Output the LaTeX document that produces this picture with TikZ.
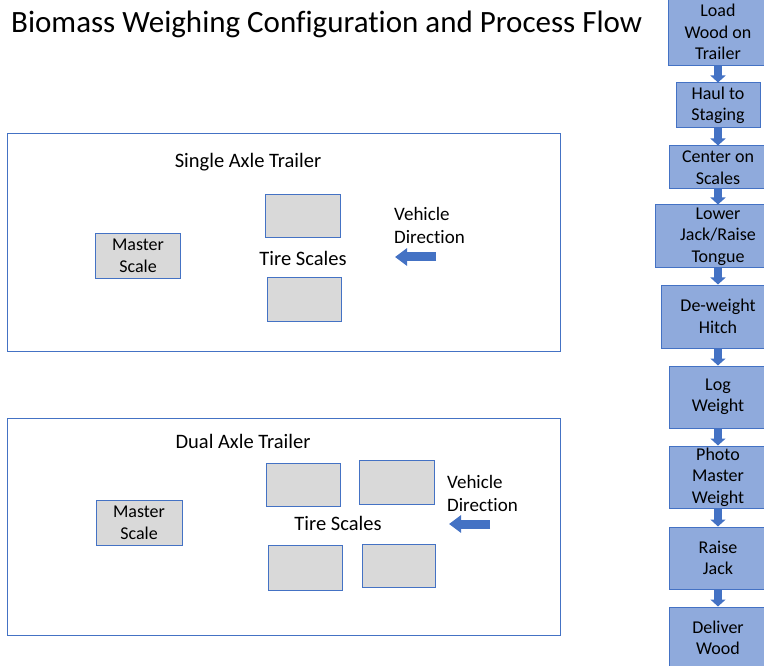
\documentclass[tikz,border=0pt]{standalone}
\usepackage{fontspec}
\setmainfont{Carlito}[Ligatures=NoCommon]
\usetikzlibrary{arrows.meta}

\definecolor{stepfill}{RGB}{143,170,220}
\definecolor{edgeblue}{RGB}{68,114,196}
\definecolor{scalegray}{RGB}{217,217,217}

\tikzset{
  flowbox/.style={draw=edgeblue,fill=stepfill,line width=1pt,align=center,
    inner sep=0pt,font=\fontsize{18}{21.5}\selectfont},
  scalebox/.style={draw=edgeblue,fill=scalegray,line width=1pt,align=center,
    inner sep=0pt,font=\fontsize{18}{22}\selectfont},
  panel/.style={draw=edgeblue,line width=1pt,inner sep=0pt},
  lbl/.style={inner sep=0pt,align=left,font=\fontsize{20.5}{23}\selectfont},
  dirlbl/.style={inner sep=0pt,align=left,font=\fontsize{19}{23}\selectfont},
  flowarrow/.style={edgeblue,line width=8pt,-{Triangle[width=15pt,length=7pt]}},
  dirarrow/.style={edgeblue,line width=9pt,-{Triangle[width=17pt,length=12pt]}},
}

\begin{document}
\begin{tikzpicture}[x=1pt,y=-1pt]
  \useasboundingbox (0,0) rectangle (764,666);

  \node[inner sep=0pt,anchor=base west,font=\fontsize{31}{36}\selectfont]
    (title) at (11,33) {Biomass Weighing Configuration and Process Flow};

  % single axle
  \node[panel,minimum width=553pt,minimum height=217pt] (single) at (283.5,242.5) {};
  \node[lbl] (singlettl) at (248,162) {Single Axle Trailer};
  \node[scalebox,minimum width=85pt,minimum height=44pt] (smaster) at (138,256) {Master\\Scale};
  \node[scalebox,minimum width=75pt,minimum height=43pt] (stop) at (302.5,216.5) {};
  \node[scalebox,minimum width=74pt,minimum height=44pt] (sbot) at (304,299.5) {};
  \node[lbl] (stire) at (303,258) {Tire Scales};
  \node[dirlbl,anchor=west] (sdir) at (394,225) {Vehicle\\Direction};
  \coordinate (sdirs) at (436,257);
  \coordinate (sdire) at (395,257);
  \draw[dirarrow] (sdirs) -- (sdire);

  % dual axle
  \node[panel,minimum width=553pt,minimum height=217pt] (dual) at (283.5,526.5) {};
  \node[lbl] (dualttl) at (243,441) {Dual Axle Trailer};
  \node[scalebox,minimum width=86pt,minimum height=45pt] (dmaster) at (139,522.5) {Master\\Scale};
  \node[scalebox,minimum width=74pt,minimum height=43pt] (dtl) at (303.5,484.5) {};
  \node[scalebox,minimum width=75pt,minimum height=44pt] (dtr) at (396.5,482.5) {};
  \node[scalebox,minimum width=74pt,minimum height=45pt] (dbl) at (305,567.5) {};
  \node[scalebox,minimum width=73pt,minimum height=43pt] (dbr) at (398.5,565.5) {};
  \node[lbl] (dtire) at (338,523) {Tire Scales};
  \node[dirlbl,anchor=west] (ddir) at (447,493) {Vehicle\\Direction};
  \coordinate (ddirs) at (490,524);
  \coordinate (ddire) at (449,524);
  \draw[dirarrow] (ddirs) -- (ddire);

  % process flow
  \node[flowbox,minimum width=100pt,minimum height=68pt] (load) at (718,32) {Load\\Wood on\\Trailer};
  \node[flowbox,minimum width=84pt,minimum height=45pt] (haul) at (718,105.5) {Haul to\\Staging};
  \node[flowbox,minimum width=98pt,minimum height=43pt] (center) at (718,167.5) {Center on\\Scales};
  \node[flowbox,minimum width=126pt,minimum height=63pt] (lower) at (718,236.5) {Lower\\Jack/Raise\\Tongue};
  \node[flowbox,minimum width=114pt,minimum height=63pt] (deweight) at (718,316.5) {De-weight\\Hitch};
  \node[flowbox,minimum width=98pt,minimum height=62pt] (logw) at (718,397) {Log\\Weight};
  \node[flowbox,minimum width=98pt,minimum height=62pt] (photo) at (718,477) {Photo\\Master\\Weight};
  \node[flowbox,minimum width=98pt,minimum height=62pt] (raise) at (718,558) {Raise\\Jack};
  \node[flowbox,minimum width=98pt,minimum height=62pt] (deliver) at (718,638) {Deliver\\Wood};

  \draw[flowarrow] (load) -- (haul);
  \draw[flowarrow] (haul) -- (center);
  \draw[flowarrow] (center) -- (lower);
  \draw[flowarrow] (lower) -- (deweight);
  \draw[flowarrow] (deweight) -- (logw);
  \draw[flowarrow] (logw) -- (photo);
  \draw[flowarrow] (photo) -- (raise);
  \draw[flowarrow] (raise) -- (deliver);
\end{tikzpicture}
\end{document}
